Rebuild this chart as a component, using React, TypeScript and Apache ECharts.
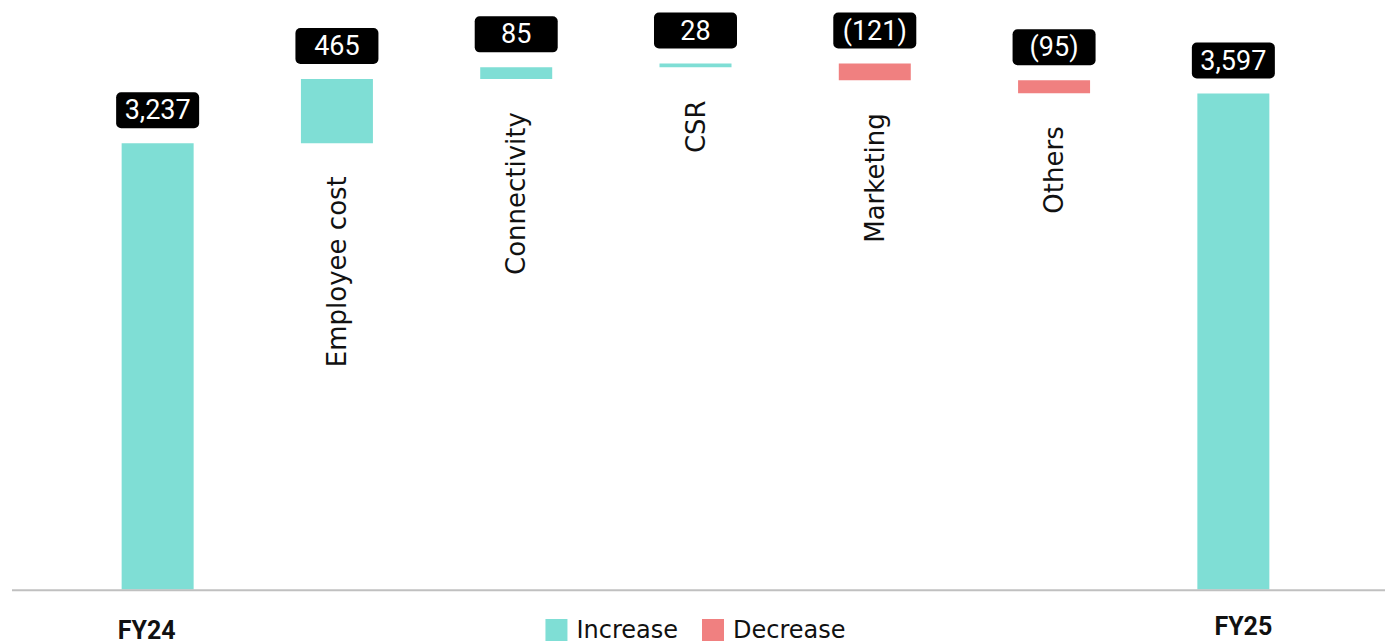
import React, { useEffect, useRef } from "react";
import * as echarts from "echarts";

const categories = ["FY24", "Employee cost", "Connectivity", "CSR", "Marketing", "Others", "FY25"];
const startValue = 3237;
const changes = [465, 85, 28, -121, -95];
const endValue = 3597;
const valueLabels = ["3,237", "465", "85", "28", "(121)", "(95)", "3,597"];

const TEAL = "#7fded5";
const SALMON = "#f08080";

function buildSeriesData() {
  const base: number[] = [0];
  const inc: (number | string)[] = [startValue];
  const dec: (number | string)[] = ["-"];
  let running = startValue;
  changes.forEach((c) => {
    if (c >= 0) {
      base.push(running);
      inc.push(c);
      dec.push("-");
      running += c;
    } else {
      running += c;
      base.push(running);
      inc.push("-");
      dec.push(-c);
    }
  });
  base.push(0);
  inc.push(endValue);
  dec.push("-");
  return { base, inc, dec };
}

export default function App() {
  const ref = useRef<HTMLDivElement>(null);
  useEffect(() => {
    document.body.style.margin = "0";
    if (!ref.current) return;
    const chart = echarts.init(ref.current, undefined, { renderer: "svg" });
    const { base, inc, dec } = buildSeriesData();
    const valueLabelStyle = {
      show: true,
      position: "top" as const,
      distance: 15,
      color: "#ffffff",
      backgroundColor: "#000000",
      borderRadius: 5,
      padding: [4, 10],
      width: 63,
      align: "center" as const,
      fontFamily: "Roboto",
      fontSize: 27,
      lineHeight: 28,
      formatter: (p: any) => valueLabels[p.dataIndex],
    };
    chart.setOption({
      animation: false,
      grid: { left: 68, right: 68, top: 38, bottom: 54.5, containLabel: false },
      xAxis: {
        type: "category",
        data: categories,
        axisLine: { show: false },
        axisTick: { show: false },
        axisLabel: {
          interval: 0,
          margin: 24,
          formatter: (v: string, i: number) =>
            i === 0 ? "{a|" + v + "}" : i === categories.length - 1 ? "{b|" + v + "}" : "",
          rich: {
            a: { fontFamily: "Roboto", fontWeight: "bold", fontSize: 25, color: "#111", padding: [4, 22, 0, 0] },
            b: { fontFamily: "Roboto", fontWeight: "bold", fontSize: 25, color: "#111", padding: [0, 0, 0, 20] },
          },
        },
      },
      yAxis: {
        type: "value",
        min: 0,
        max: 4000,
        show: false,
        splitLine: { show: false },
      },
      legend: {
        data: ["Increase", "Decrease"],
        left: "center",
        top: 613,
        icon: "rect",
        itemWidth: 22,
        itemHeight: 22,
        itemGap: 24,
        textStyle: { fontFamily: "DejaVu Sans", fontSize: 24, color: "#111", padding: [0, 0, 0, 4] },
      },
      graphic: [
        {
          type: "line",
          z: 100,
          shape: { x1: 12, y1: 590.3, x2: 1385, y2: 590.3 },
          style: { stroke: "#c0c0c0", lineWidth: 2 },
        },
      ],
      series: [
        {
          name: "Base",
          type: "bar",
          stack: "total",
          barWidth: 72,
          itemStyle: { color: "transparent" },
          emphasis: { disabled: true },
          data: base,
          label: {
            show: true,
            position: "insideTop",
            distance: 33,
            rotate: 90,
            align: "right",
            verticalAlign: "middle",
            fontFamily: "DejaVu Sans",
            fontSize: 26,
            color: "#111",
            formatter: (p: any) =>
              p.dataIndex === 0 || p.dataIndex === categories.length - 1 ? "" : categories[p.dataIndex],
          },
        },
        {
          name: "Increase",
          type: "bar",
          stack: "total",
          barWidth: 72,
          itemStyle: { color: TEAL },
          data: inc,
          label: valueLabelStyle,
        },
        {
          name: "Decrease",
          type: "bar",
          stack: "total",
          barWidth: 72,
          itemStyle: { color: SALMON },
          data: dec,
          label: valueLabelStyle,
        },
      ],
    });
    return () => chart.dispose();
  }, []);
  return <div ref={ref} style={{ width: 1391, height: 644 }} />;
}
